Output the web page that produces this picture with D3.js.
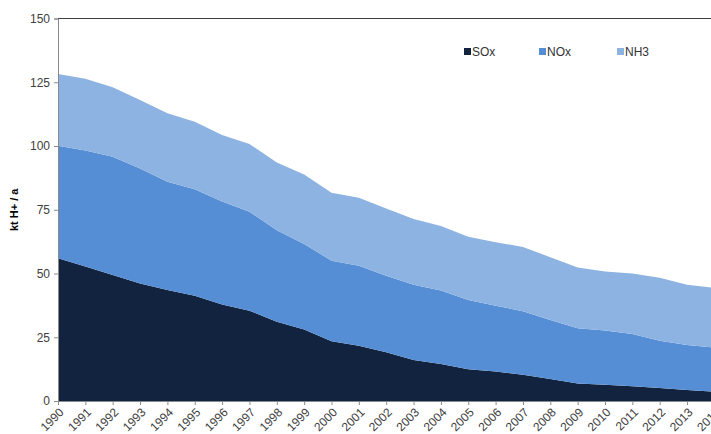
<!DOCTYPE html>
<html>
<head>
<meta charset="utf-8">
<script src="https://cdn.jsdelivr.net/npm/d3@7"></script>
<style>
  body { margin: 0; background: #fff; }
  text { font-family: Arial, "Liberation Sans", sans-serif; }
</style>
</head>
<body>
<script>
var w = 711,
    h = 434;

var margin = {left: 58, top: 18.5, bottom: 33};

var years = [1990, 1991, 1992, 1993, 1994, 1995, 1996, 1997, 1998, 1999, 2000, 2001,
             2002, 2003, 2004, 2005, 2006, 2007, 2008, 2009, 2010, 2011, 2012, 2013, 2014];

var sox = [56, 52.7, 49.4, 46.1, 43.5, 41.3, 37.8, 35.4, 31.1, 28, 23.4, 21.7,
           19.1, 16.1, 14.5, 12.5, 11.6, 10.3, 8.6, 6.9, 6.4, 5.8, 5.1, 4.3, 3.6];
var nox = [44.1, 45.5, 46.4, 45.1, 42.5, 41.7, 40.4, 38.8, 35.9, 33.6, 31.6, 31.3,
           30.0, 29.5, 28.8, 27.1, 25.8, 24.9, 23.2, 21.6, 21.2, 20.5, 18.5, 17.7, 17.4];
var nh3 = [28.1, 28.2, 27.2, 26.8, 26.8, 26.5, 26.1, 26.6, 26.5, 27.2, 26.7, 26.7,
           26.4, 25.8, 25.3, 24.8, 24.9, 25.2, 24.6, 23.9, 23.2, 23.7, 24.7, 23.6, 23.3];

var seriesNames = ['SOx', 'NOx', 'NH3'];
var yTicks = [0, 25, 50, 75, 100, 125, 150];

var color = ['#12233f', '#558ed5', '#8db3e2'];

var rows = years.map(function(y, i) {
  return {year: y, SOx: sox[i], NOx: nox[i], NH3: nh3[i]};
});

var stacked = d3.stack().keys(seriesNames)(rows);

// the last category sits just past the right edge, like the original
var x = d3.scalePoint()
          .domain(years)
          .range([margin.left, 714.4]);

var y = d3.scaleLinear()
          .domain([0, 150])
          .range([h - margin.bottom, margin.top]);

var svg = d3.select("body")
          .append("svg")
          .attr("width", w)
          .attr("height", h);

var area = d3.area()
          .x(function(d) { return x(d.data.year); })
          .y0(function(d) { return y(d[0]); })
          .y1(function(d) { return y(d[1]); });

svg.selectAll('.layer')
   .data(stacked)
   .enter().append('path')
   .attr('class', 'layer')
   .attr('d', area)
   .attr('fill', function(d, i) { return color[i]; });

// top border
svg.append('line')
   .attr('x1', margin.left).attr('x2', w)
   .attr('y1', y(150)).attr('y2', y(150))
   .attr('stroke', '#404040').attr('stroke-width', 1);

// y axis
var yAxis = svg.append('g')
   .attr('transform', 'translate(' + margin.left + ',0)')
   .call(d3.axisLeft(y).tickValues(yTicks).tickSize(4).tickPadding(4));
yAxis.select('.domain').attr('stroke', '#8a8a8a');
yAxis.selectAll('.tick line').attr('stroke', '#8a8a8a');
yAxis.selectAll('text')
   .attr('font-size', 12)
   .attr('fill', '#404040');

// x axis
var xAxis = svg.append('g')
   .attr('transform', 'translate(0,' + y(0) + ')')
   .call(d3.axisBottom(x).tickSize(4).tickSizeOuter(0));
xAxis.select('.domain').attr('stroke', '#8a8a8a');
xAxis.selectAll('.tick line').attr('stroke', '#8a8a8a');
xAxis.selectAll('text')
   .attr('font-size', 12)
   .attr('fill', '#404040')
   .attr('text-anchor', 'end')
   .attr('dy', null)
   .attr('y', 0)
   .attr('transform', 'translate(6,12) rotate(-45)');

// y label
svg.append('text')
   .text('kt H+ / a')
   .attr('transform', 'translate(18,' + y(75) + ') rotate(-90)')
   .attr('text-anchor', 'middle')
   .attr('font-size', 11)
   .attr('font-weight', 'bold')
   .attr('fill', '#000');

// legend
var legendX = [464, 539, 617];
var legend = svg.selectAll('.legend')
   .data(seriesNames)
   .enter().append('g')
   .attr('class', 'legend')
   .attr('transform', function(d, i) { return 'translate(' + legendX[i] + ',48)'; });

legend.append('rect')
   .attr('width', 7).attr('height', 7)
   .attr('fill', function(d, i) { return color[i]; });

legend.append('text')
   .text(function(d) { return d; })
   .attr('x', 8)
   .attr('y', 7.5)
   .attr('font-size', 12)
   .attr('fill', '#333');
</script>
</body>
</html>
